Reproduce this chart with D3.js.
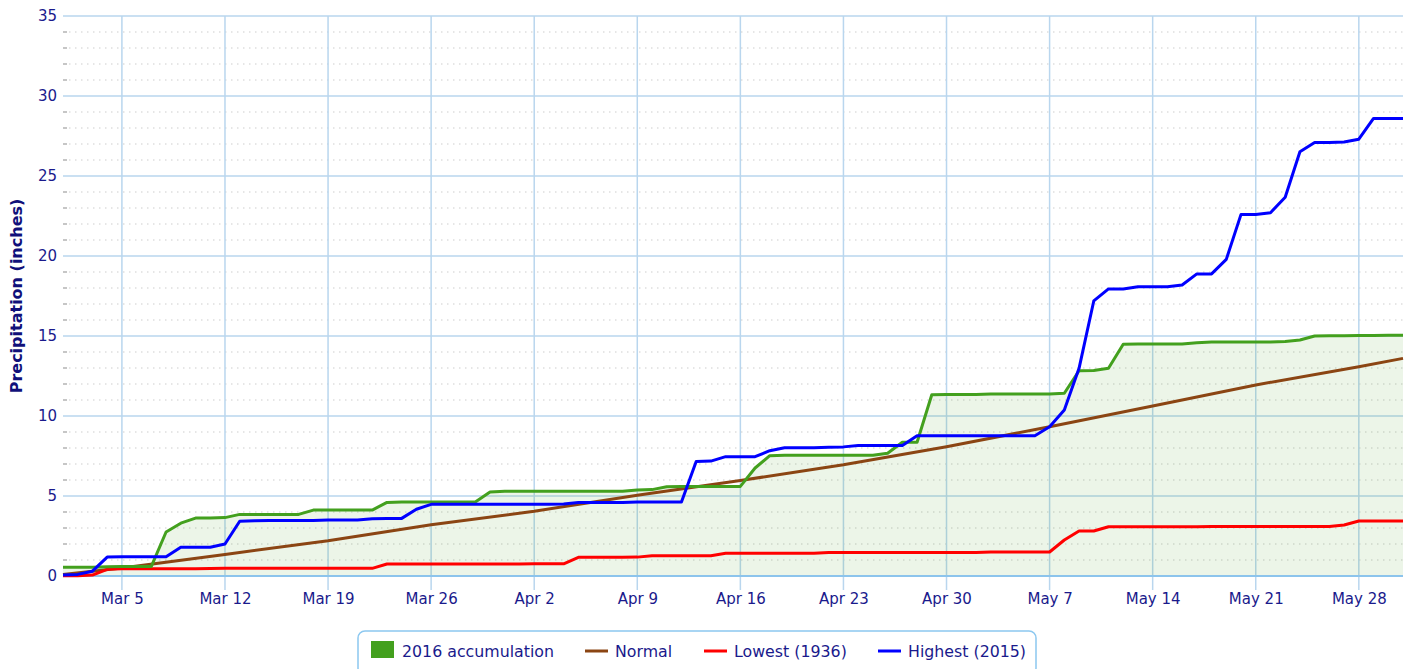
<!DOCTYPE html>
<html>
<head>
<meta charset="utf-8">
<script src="https://d3js.org/d3.v7.min.js"></script>
<style>
  body { margin: 0; background: #fff; }
  text { font-family: "DejaVu Sans", sans-serif; }
</style>
</head>
<body>
<div id="chart"></div>
<script>
// Chart size and margins
var svgWidth = 1421;
var svgHeight = 669;

var margin = {
  top: 16,
  right: 18,
  bottom: 93,
  left: 63
};

var width = svgWidth - margin.left - margin.right;
var height = svgHeight - margin.top - margin.bottom;

// Data: daily accumulated precipitation, Mar 1 - May 31
var startDate = "2016-03-01";
var endDate = "2016-05-31";

var accum2016 = [
  0.55, 0.55, 0.55, 0.58, 0.6, 0.6, 0.6, 2.75, 3.3, 3.62,
  3.62, 3.65, 3.85, 3.85, 3.85, 3.85, 3.85, 4.12, 4.12, 4.12,
  4.12, 4.12, 4.6, 4.62, 4.62, 4.62, 4.62, 4.62, 4.62, 5.25,
  5.3, 5.3, 5.3, 5.3, 5.3, 5.3, 5.3, 5.3, 5.3, 5.38,
  5.4, 5.58, 5.6, 5.6, 5.6, 5.6, 5.6, 6.75, 7.52, 7.55,
  7.55, 7.55, 7.55, 7.55, 7.55, 7.55, 7.67, 8.36, 8.36, 11.33,
  11.35, 11.35, 11.35, 11.38, 11.38, 11.38, 11.38, 11.38, 11.42, 12.83,
  12.85, 12.98, 14.48, 14.5, 14.5, 14.5, 14.5, 14.58, 14.62, 14.62,
  14.62, 14.62, 14.62, 14.65, 14.75, 15.0, 15.02, 15.02, 15.03, 15.03,
  15.04, 15.04
];

var highest2015 = [
  0.06, 0.1, 0.3, 1.18, 1.2, 1.2, 1.2, 1.2, 1.8, 1.8,
  1.8, 2.0, 3.42, 3.45, 3.47, 3.47, 3.47, 3.47, 3.5, 3.5,
  3.5, 3.58, 3.6, 3.6, 4.17, 4.48, 4.48, 4.48, 4.48, 4.48,
  4.48, 4.48, 4.48, 4.48, 4.5, 4.6, 4.6, 4.6, 4.6, 4.62,
  4.63, 4.63, 4.63, 7.15, 7.18, 7.46, 7.46, 7.46, 7.83, 8.02,
  8.02, 8.02, 8.04, 8.07, 8.15, 8.15, 8.15, 8.15, 8.77, 8.77,
  8.77, 8.77, 8.77, 8.77, 8.77, 8.77, 8.77, 9.33, 10.38, 12.98,
  17.19, 17.94, 17.94, 18.08, 18.08, 18.08, 18.19, 18.88, 18.88, 19.79,
  22.6, 22.6, 22.7, 23.67, 26.52, 27.1, 27.1, 27.12, 27.3, 28.6,
  28.6, 28.6
];

var lowest1936 = [
  0.02, 0.02, 0.06, 0.42, 0.45, 0.45, 0.45, 0.45, 0.45, 0.45,
  0.47, 0.48, 0.48, 0.48, 0.48, 0.48, 0.48, 0.48, 0.48, 0.48,
  0.48, 0.48, 0.75, 0.75, 0.75, 0.75, 0.75, 0.75, 0.75, 0.75,
  0.75, 0.75, 0.76, 0.76, 0.76, 1.17, 1.17, 1.17, 1.17, 1.18,
  1.27, 1.27, 1.27, 1.27, 1.27, 1.42, 1.42, 1.42, 1.42, 1.42,
  1.42, 1.42, 1.47, 1.47, 1.47, 1.47, 1.47, 1.47, 1.47, 1.47,
  1.47, 1.47, 1.47, 1.5, 1.5, 1.5, 1.5, 1.5, 2.25, 2.81,
  2.81, 3.08, 3.08, 3.08, 3.08, 3.08, 3.08, 3.08, 3.1, 3.1,
  3.1, 3.1, 3.1, 3.1, 3.1, 3.1, 3.1, 3.19, 3.44, 3.44,
  3.44, 3.44
];

// Normal curve read at weekly points
var normalDates = ["2016-03-01", "2016-03-05", "2016-03-12", "2016-03-19", "2016-03-26",
  "2016-04-02", "2016-04-09", "2016-04-16", "2016-04-23", "2016-04-30",
  "2016-05-07", "2016-05-14", "2016-05-21", "2016-05-28", "2016-05-31"];
var normalValues = [0.1, 0.5, 1.35, 2.2, 3.2, 4.05, 5.05, 5.97, 6.95, 8.08, 9.33, 10.62, 11.94, 13.08, 13.6];

var tickDates = ["2016-03-05", "2016-03-12", "2016-03-19", "2016-03-26", "2016-04-02",
  "2016-04-09", "2016-04-16", "2016-04-23", "2016-04-30", "2016-05-07",
  "2016-05-14", "2016-05-21", "2016-05-28"];
var yTicks = [0, 5, 10, 15, 20, 25, 30, 35];

var parseDate = d3.timeParse("%Y-%m-%d");
var days = d3.timeDay.range(parseDate(startDate), d3.timeDay.offset(parseDate(endDate), 1));

var svg = d3.select("#chart")
  .append("svg")
  .attr("width", svgWidth)
  .attr("height", svgHeight);

var chartGroup = svg.append("g")
  .attr("transform", `translate(${margin.left}, ${margin.top})`);

// Scales
var xScale = d3.scaleTime()
  .domain([parseDate(startDate), parseDate(endDate)])
  .range([0, width]);

var yScale = d3.scaleLinear()
  .domain([0, 35])
  .range([height, 0]);

// Minor dotted gridlines
var minor = d3.range(1, 35).filter(v => v % 5 !== 0);
chartGroup.selectAll(".minor")
  .data(minor)
  .enter()
  .append("line")
  .attr("x1", 6).attr("x2", width)
  .attr("y1", d => yScale(d)).attr("y2", d => yScale(d))
  .attr("stroke", "#dedede")
  .attr("stroke-width", 1.3)
  .attr("stroke-dasharray", "1.5,4.5");
chartGroup.selectAll(".minortick")
  .data(minor)
  .enter()
  .append("line")
  .attr("x1", 0).attr("x2", 4)
  .attr("y1", d => yScale(d)).attr("y2", d => yScale(d))
  .attr("stroke", "#a8a8a8")
  .attr("stroke-width", 1.3);

// Major horizontal gridlines
chartGroup.selectAll(".major")
  .data(yTicks)
  .enter()
  .append("line")
  .attr("x1", 0).attr("x2", width)
  .attr("y1", d => yScale(d)).attr("y2", d => yScale(d))
  .attr("stroke", "#b9d6ee")
  .attr("stroke-width", 1.5);

// Vertical gridlines (extend below axis as ticks)
chartGroup.selectAll(".vgrid")
  .data(tickDates)
  .enter()
  .append("line")
  .attr("x1", d => xScale(parseDate(d))).attr("x2", d => xScale(parseDate(d)))
  .attr("y1", 0).attr("y2", height + 14)
  .attr("stroke", "#b9d6ee")
  .attr("stroke-width", 1.5);

// Area under 2016 accumulation
var area = d3.area()
  .x((d, i) => xScale(days[i]))
  .y0(yScale(0))
  .y1(d => yScale(d));

chartGroup.append("path")
  .datum(accum2016)
  .attr("d", area)
  .attr("fill", "#43a01e")
  .attr("fill-opacity", 0.1);

// x axis base line
chartGroup.append("line")
  .attr("x1", 0).attr("x2", width)
  .attr("y1", height).attr("y2", height)
  .attr("stroke", "#8cc4ec")
  .attr("stroke-width", 2);

// Lines
var dailyLine = d3.line()
  .x((d, i) => xScale(days[i]))
  .y(d => yScale(d));

var normalLine = d3.line()
  .x((d, i) => xScale(parseDate(normalDates[i])))
  .y(d => yScale(d));

chartGroup.append("path")
  .datum(normalValues)
  .attr("d", normalLine)
  .attr("fill", "none")
  .attr("stroke", "#8b4513")
  .attr("stroke-width", 3);

chartGroup.append("path")
  .datum(lowest1936)
  .attr("d", dailyLine)
  .attr("fill", "none")
  .attr("stroke", "#ff0000")
  .attr("stroke-width", 3)
  .attr("stroke-linejoin", "round");

chartGroup.append("path")
  .datum(accum2016)
  .attr("d", dailyLine)
  .attr("fill", "none")
  .attr("stroke", "#43a01e")
  .attr("stroke-width", 3)
  .attr("stroke-linejoin", "round");

chartGroup.append("path")
  .datum(highest2015)
  .attr("d", dailyLine)
  .attr("fill", "none")
  .attr("stroke", "#0000ff")
  .attr("stroke-width", 3)
  .attr("stroke-linejoin", "round");

// Axes labels
var bottomAxis = d3.axisBottom(xScale)
  .tickValues(tickDates.map(parseDate))
  .tickFormat(d3.timeFormat("%b %-d"))
  .tickSize(0)
  .tickPadding(17);

var leftAxis = d3.axisLeft(yScale)
  .tickValues(yTicks)
  .tickSize(0)
  .tickPadding(6);

var xg = chartGroup.append("g")
  .attr("transform", `translate(0, ${height})`)
  .call(bottomAxis);
var yg = chartGroup.append("g")
  .call(leftAxis);

[xg, yg].forEach(function(g) {
  g.select(".domain").remove();
  g.selectAll("text")
    .attr("fill", "#1a1a8c")
    .style("font-size", "15px")
    .style("font-family", "DejaVu Sans, sans-serif");
});

chartGroup.append("text")
  .attr("transform", "rotate(-90)")
  .attr("x", 0 - (height / 2))
  .attr("y", 0 - margin.left + 22)
  .attr("text-anchor", "middle")
  .attr("fill", "#10107a")
  .style("font-size", "16px")
  .style("font-weight", "bold")
  .text("Precipitation (inches)");

// Legend
var legend = svg.append("g");
legend.append("rect")
  .attr("x", 358).attr("y", 631)
  .attr("width", 678).attr("height", 44)
  .attr("rx", 7)
  .attr("fill", "#fff")
  .attr("stroke", "#8cc8f0")
  .attr("stroke-width", 1.5);

var legendItems = [
  {label: "2016 accumulation", color: "#43a01e", type: "box", x: 371},
  {label: "Normal", color: "#8b4513", type: "line", x: 585},
  {label: "Lowest (1936)", color: "#ff0000", type: "line", x: 704},
  {label: "Highest (2015)", color: "#0000ff", type: "line", x: 878}
];

legendItems.forEach(function(item) {
  if (item.type === "box") {
    legend.append("rect")
      .attr("x", item.x).attr("y", 641)
      .attr("width", 23).attr("height", 17)
      .attr("fill", item.color);
  } else {
    legend.append("line")
      .attr("x1", item.x).attr("x2", item.x + 23)
      .attr("y1", 651).attr("y2", 651)
      .attr("stroke", item.color)
      .attr("stroke-width", 3);
  }
  legend.append("text")
    .attr("x", item.x + (item.type === "box" ? 31 : 30))
    .attr("y", 657)
    .attr("fill", "#1a1a8c")
    .style("font-size", "15.8px")
    .text(item.label);
});
</script>
</body>
</html>
